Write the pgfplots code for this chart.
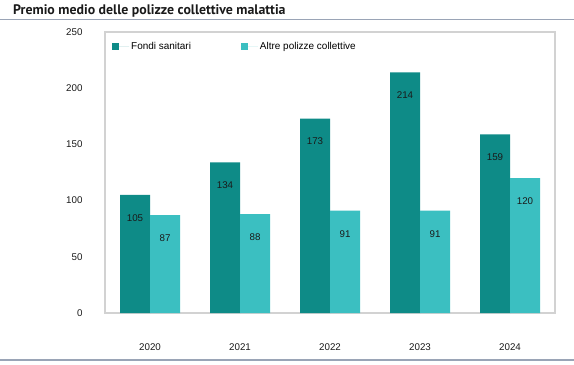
\documentclass[border=0pt]{standalone}
\usepackage{pgfplots}
\pgfplotsset{compat=1.18}
\usepackage{fontspec}
\setmainfont{Liberation Sans}
\newfontfamily\titlefont{PT Sans}
\definecolor{darkteal}{HTML}{0E8B87}
\definecolor{lightteal}{HTML}{3BBFC1}
\definecolor{framegray}{HTML}{D2D2D2}
\definecolor{rulegray}{HTML}{9AA4B6}
\definecolor{txt}{HTML}{1A1A1A}
\begin{document}
\begin{tikzpicture}[x=1bp,y=1bp]
\path[use as bounding box] (0,0) rectangle (574,364);
\node[anchor=base west, inner sep=0, text=txt] at (13,349.5) {\titlefont\bfseries\fontsize{13.9}{17}\selectfont Premio medio delle polizze collettive malattia};
\draw[rulegray, line width=1bp] (0,344) -- (574,344);
\draw[rulegray, line width=2bp] (0,4) -- (574,4);
\begin{axis}[
  at={(105bp,51bp)}, anchor=south west,
  scale only axis, width=450bp, height=281bp,
  xmin=-0.5, xmax=4.5, ymin=0, ymax=250,
  ytick={0,50,...,250},
  xtick={0,1,2,3,4},
  xticklabels={2020,2021,2022,2023,2024},
  tick style={draw=none},
  axis line style={draw=framegray, line width=1.3bp},
  ybar=0pt, bar width=30bp,
  ticklabel style={font=\fontsize{9.8}{11}\selectfont, text=txt},
  yticklabel style={xshift=-19bp},
  xticklabel style={yshift=-23bp},
  /pgf/number format/assume math mode=true,
  nodes near coords,
  every node near coord/.append style={anchor=center, yshift=-23bp, font=\fontsize{9.8}{11}\selectfont, text=txt},
  legend columns=2,
  legend cell align=left,
  legend style={at={(0,1)}, anchor=north west, draw=none, fill=none,
    xshift=4bp, yshift=-6bp,
    font=\fontsize{10}{11}\selectfont,
    /tikz/every even column/.append style={column sep=48bp}},
  legend image code/.code={\fill[#1] (0bp,-3.5bp) rectangle (7bp,3.5bp); \path (0bp,0bp) -- (17bp,0bp);},
]
\addplot[fill=darkteal, draw=none] coordinates {(0,105) (1,134) (2,173) (3,214) (4,159)};
\addplot[fill=lightteal, draw=none] coordinates {(0,87) (1,88) (2,91) (3,91) (4,120)};
\legend{Fondi sanitari, Altre polizze collettive}
\end{axis}
\end{tikzpicture}
\end{document}
